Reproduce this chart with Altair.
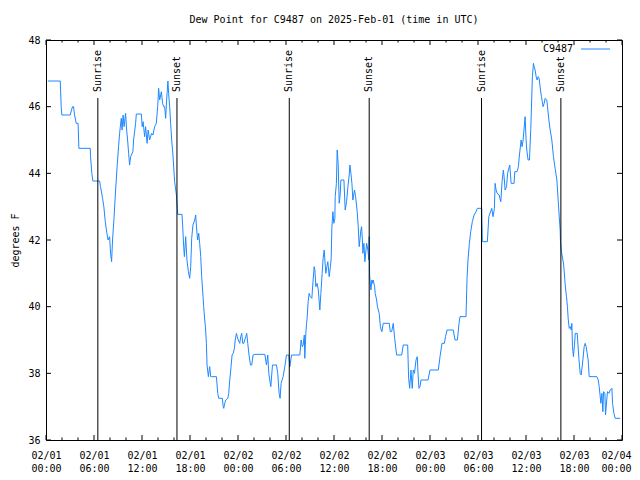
import altair as alt
import pandas as pd

MONO = "DejaVu Sans Mono"
BLUE = "#1e88ff"

# (hours since 2025-02-01 00:00 UTC, dew point F)
day1_readings = [
    (0.23, 46.77), (1.78, 46.77), (1.90, 46.0), (1.98, 45.75), (3.03, 45.75), (3.19, 45.9), (3.32, 46.0),
    (3.44, 46.0), (3.57, 45.75), (3.78, 45.5), (4.01, 45.5), (4.11, 44.75), (5.53, 44.75), (5.57, 44.5),
    (5.73, 44.0), (5.86, 43.77), (6.70, 43.77), (6.82, 43.6), (7.07, 43.25), (7.23, 43.0), (7.41, 42.55),
    (7.61, 42.2), (7.76, 42.0), (7.95, 42.1), (8.07, 41.6), (8.20, 41.35), (8.32, 42.0), (8.51, 42.7),
    (8.70, 43.5), (8.89, 44.2), (9.07, 44.8), (9.20, 45.2), (9.41, 45.65), (9.51, 45.3), (9.64, 45.75),
    (9.76, 45.4), (9.95, 45.8), (10.08, 45.3), (10.20, 45.0), (10.33, 44.6), (10.45, 44.25), (10.58, 44.5),
    (10.86, 44.65), (10.95, 45.0), (11.20, 45.5), (11.29, 45.78), (11.92, 45.78), (12.02, 45.4),
    (12.14, 45.55), (12.33, 45.1), (12.45, 45.4), (12.64, 44.9), (12.77, 45.3), (12.95, 45.0),
    (13.20, 45.2), (13.37, 45.15), (13.58, 45.4), (13.79, 45.5), (13.96, 46.0), (14.08, 46.55),
    (14.21, 46.2), (14.42, 46.45), (14.58, 46.1), (14.71, 46.0), (14.83, 46.0), (14.96, 45.65),
    (15.08, 46.2), (15.24, 46.77), (15.33, 46.4), (15.46, 46.0), (15.58, 45.5), (15.71, 45.0),
    (15.87, 44.55), (16.08, 43.75), (16.30, 43.35), (16.42, 42.95), (16.46, 42.77), (17.00, 42.77),
    (17.08, 42.45), (17.21, 41.8), (17.30, 41.5), (17.46, 42.1), (17.62, 41.4), (17.80, 41.05),
    (17.96, 40.85), (18.09, 41.2), (18.21, 42.05), (18.37, 42.45), (18.59, 42.6), (18.71, 42.75),
    (18.84, 42.3), (18.96, 42.0), (19.09, 42.2), (19.21, 41.9), (19.34, 41.5), (19.46, 40.9),
    (19.63, 40.3), (19.71, 40.0), (19.84, 39.6), (19.93, 39.4), (20.05, 38.9), (20.13, 38.25),
    (20.30, 37.9), (20.40, 38.1), (20.46, 38.2), (20.59, 37.9), (20.71, 37.9), (21.30, 37.9),
    (21.47, 37.4), (21.59, 37.25), (22.05, 37.25), (22.15, 37.0), (22.22, 36.95), (22.34, 37.1),
    (22.47, 37.2), (22.72, 37.25), (22.84, 37.4), (22.97, 37.8), (23.09, 38.1), (23.26, 38.55),
    (23.40, 38.6), (23.55, 38.75), (23.65, 39.0), (23.81, 39.2), (23.91, 39.1),
]

day2_readings = [
    (24.03, 39.0), (24.22, 38.9), (24.34, 39.1), (24.47, 39.2), (24.59, 38.9), (24.72, 38.9),
    (24.84, 39.0), (24.97, 39.1), (25.09, 39.2), (25.22, 38.9), (25.38, 38.55), (25.56, 38.25),
    (25.72, 38.25), (25.88, 38.55), (26.10, 38.57), (27.35, 38.57), (27.56, 38.25), (27.72, 38.55),
    (27.85, 38.0), (27.97, 37.8), (28.10, 37.6), (28.31, 38.25), (28.81, 38.25), (28.97, 38.0),
    (29.14, 37.4), (29.26, 37.25), (29.39, 37.7), (29.64, 37.9), (29.85, 38.2), (30.06, 38.55),
    (30.35, 38.55), (30.48, 38.2), (30.69, 38.55), (31.73, 38.55), (31.89, 39.0), (32.04, 38.8),
    (32.14, 38.85), (32.29, 39.15), (32.35, 38.45), (32.48, 39.2), (32.57, 39.5), (32.64, 39.65),
    (32.77, 40.15), (32.89, 40.4), (33.04, 40.3), (33.23, 40.25), (33.39, 40.8), (33.52, 41.2),
    (33.61, 41.1), (33.73, 40.6), (33.89, 40.7), (34.04, 40.5), (34.23, 39.9), (34.36, 40.4),
    (34.52, 41.0), (34.64, 41.45), (34.77, 41.7), (34.86, 41.4), (34.98, 41.0), (35.11, 41.2),
    (35.23, 41.35), (35.40, 40.9), (35.55, 41.2), (35.65, 41.45), (35.73, 42.35), (35.86, 42.85),
    (35.98, 42.5), (36.11, 42.65), (36.15, 43.3), (36.30, 43.7), (36.40, 44.7), (36.52, 44.3),
    (36.65, 43.1), (36.77, 43.35), (36.86, 43.8), (37.24, 43.8), (37.40, 42.9), (37.57, 43.15),
    (37.74, 43.6), (37.90, 43.95), (37.99, 44.25), (38.11, 44.0), (38.24, 43.7), (38.36, 43.2),
    (38.57, 43.5), (38.70, 43.3), (38.90, 42.85), (39.03, 42.4), (39.15, 41.8), (39.24, 42.0),
    (39.36, 42.3), (39.45, 42.4), (39.55, 42.0), (39.61, 41.6), (39.74, 41.9), (39.86, 41.35),
    (40.08, 41.9), (40.24, 41.7), (40.36, 41.4), (40.40, 42.1), (40.45, 40.95), (40.61, 40.5),
    (40.74, 40.8), (40.83, 40.7), (40.90, 40.8), (41.08, 40.6), (41.15, 40.4), (41.33, 40.2),
    (41.43, 40.0), (41.65, 39.8), (41.80, 39.4), (41.90, 39.3), (41.99, 39.25), (42.15, 39.5),
    (42.91, 39.5), (43.03, 39.25), (43.21, 39.25), (43.41, 39.5), (43.58, 39.05), (43.83, 38.55),
    (44.46, 38.55), (44.66, 38.85), (45.21, 38.85), (45.33, 37.85), (45.46, 37.55), (45.62, 38.1),
    (45.78, 37.55), (45.91, 38.1), (46.06, 38.0), (46.25, 38.4), (46.41, 38.5), (46.50, 38.0),
    (46.62, 37.55), (46.75, 37.6), (46.87, 37.8), (47.75, 37.8), (48.00, 38.1),
]

day3_readings = [
    (49.04, 38.1), (49.25, 38.5), (49.50, 38.9), (49.79, 38.9), (49.94, 39.1), (50.13, 39.3),
    (50.91, 39.3), (51.13, 39.0), (51.42, 39.0), (51.63, 39.5), (51.75, 39.7), (52.50, 39.7),
    (52.63, 40.85), (52.75, 41.4), (52.92, 41.9), (53.09, 42.25), (53.29, 42.55), (53.51, 42.75),
    (53.76, 42.85), (53.92, 42.95), (54.47, 42.95), (54.54, 41.95), (55.17, 41.95), (55.35, 42.7),
    (55.72, 42.95), (55.88, 42.7), (56.05, 42.95), (56.14, 43.7), (56.26, 43.5), (56.39, 43.4),
    (56.64, 43.35), (56.85, 43.15), (57.01, 43.75), (57.17, 44.1), (57.26, 43.9), (57.39, 43.5),
    (57.57, 43.6), (57.70, 44.0), (57.80, 44.1), (57.97, 44.25), (58.14, 43.7), (58.51, 43.7),
    (58.60, 44.05), (58.89, 44.05), (59.05, 44.2), (59.18, 44.55), (59.39, 45.0), (59.51, 44.8),
    (59.64, 45.0), (59.80, 45.45), (59.89, 45.7), (60.01, 45.0), (60.10, 44.7), (60.26, 44.4),
    (60.43, 44.4), (60.60, 45.35), (60.80, 46.9), (60.93, 47.3), (61.02, 47.2), (61.14, 47.1),
    (61.27, 46.9), (61.39, 46.8), (61.52, 46.9), (61.64, 46.85), (61.81, 46.5), (61.93, 46.3),
    (62.14, 46.0), (62.27, 46.1), (62.39, 46.25), (62.60, 46.2), (62.86, 45.6), (63.02, 45.3),
    (63.23, 45.0), (63.43, 44.5), (63.64, 44.15), (63.86, 43.8), (64.02, 43.2), (64.14, 42.75),
    (64.27, 42.3), (64.31, 41.95), (64.43, 41.65), (64.61, 41.4), (64.71, 41.25), (64.81, 40.95),
    (64.90, 40.65), (65.06, 40.3), (65.18, 40.0), (65.27, 39.65), (65.40, 39.35), (65.56, 39.4),
    (65.65, 39.3), (65.73, 39.5), (65.81, 38.8), (65.93, 38.5), (66.11, 39.0), (66.15, 39.2),
    (66.40, 39.2), (66.61, 38.45), (66.77, 38.0), (66.90, 37.95), (67.11, 38.4), (67.27, 38.8),
    (67.40, 38.9), (67.52, 38.8), (67.65, 38.6), (67.77, 38.4), (67.90, 37.9), (68.86, 37.9),
    (69.03, 37.8), (69.15, 37.6), (69.36, 37.1), (69.49, 37.4), (69.61, 36.85), (69.69, 37.45),
    (69.86, 37.4), (69.94, 36.75), (70.09, 37.2), (70.19, 37.45), (70.37, 37.4), (70.53, 37.5),
    (70.74, 37.55), (70.82, 37.1), (70.99, 36.8), (71.15, 36.65), (71.78, 36.65),
]

sun_hours = [6.48, 16.37, 30.41, 40.40, 54.44, 64.36]
sun_labels = ["Sunrise", "Sunset", "Sunrise", "Sunset", "Sunrise", "Sunset"]
sun_line_top = 46.26
sun_label_base = 46.44

x_label_hours = list(range(0, 73, 6))
x_tick_hours = list(range(0, 73, 2))
y_tick_values = [36, 38, 40, 42, 44, 46, 48]
series_name = "C9487"

df = pd.DataFrame(day1_readings + day2_readings + day3_readings, columns=["h", "v"])

xs = alt.Scale(domain=[0, 72], nice=False, zero=False)
ys = alt.Scale(domain=[36, 48], nice=False, zero=False)

label_expr = ("['02/0' + (floor(datum.value / 24) + 1), "
              "((datum.value % 24) < 10 ? '0' : '') + (datum.value % 24) + ':00']")

last_label = "datum.value >= 72"

line = alt.Chart(df).mark_line(color=BLUE, strokeWidth=1, clip=True).encode(
    x=alt.X("h:Q", scale=xs, axis=alt.Axis(
        values=x_label_hours, labelExpr=label_expr, title=None, tickSize=0, domain=False, grid=False,
        labelFont=MONO, labelFontSize=10, labelColor="black", labelLineHeight=13, labelPadding=10,
        labelFlush=False, labelOverlap=False, labelBound=False,
        labelAlign={"condition": {"test": last_label, "value": "right"}, "value": "center"},
        labelOffset={"condition": {"test": last_label, "value": 9}, "value": 0})),
    y=alt.Y("v:Q", scale=ys, axis=alt.Axis(
        values=y_tick_values, format="d", title="degrees F", tickSize=0, domain=False, grid=False,
        labelFont=MONO, labelFontSize=10, labelColor="black", labelPadding=6,
        titleFont=MONO, titleFontSize=10, titleFontWeight="normal", titleColor="black", titlePadding=7)),
)

sun_df = pd.DataFrame({"h": sun_hours, "label": sun_labels})
sun_df["v"] = 36.0
sun_df["v2"] = sun_line_top
sun_df["vt"] = sun_label_base

sun_rules = alt.Chart(sun_df).mark_rule(color="black", strokeWidth=1).encode(
    x="h:Q", y="v:Q", y2="v2:Q")
sun_text = alt.Chart(sun_df).mark_text(angle=270, align="left", baseline="middle", font=MONO,
                                        fontSize=10, color="black").encode(
    x="h:Q", y="vt:Q", text="label:N")

xt = pd.DataFrame({"h": x_tick_hours})
xt["len"] = [0.15 if h % 6 == 0 else 0.075 for h in x_tick_hours]
xt["b0"] = 36.0
xt["b1"] = 36.0 + xt["len"]
xt["t0"] = 48.0
xt["t1"] = 48.0 - xt["len"]
bottom_ticks = alt.Chart(xt).mark_rule(color="black").encode(x="h:Q", y="b0:Q", y2="b1:Q")
top_ticks = alt.Chart(xt).mark_rule(color="black").encode(x="h:Q", y="t0:Q", y2="t1:Q")

yt = pd.DataFrame({"v": y_tick_values})
yt["l0"] = 0.0
yt["l1"] = 0.625
yt["r0"] = 72.0
yt["r1"] = 72.0 - 0.625
left_ticks = alt.Chart(yt).mark_rule(color="black").encode(y="v:Q", x="l0:Q", x2="l1:Q")
right_ticks = alt.Chart(yt).mark_rule(color="black").encode(y="v:Q", x="r0:Q", x2="r1:Q")

leg_df = pd.DataFrame({"name": [series_name]})
legend_text = alt.Chart(leg_df).mark_text(align="right", baseline="middle", font=MONO, fontSize=10,
                                          color="black").encode(
    x=alt.value(527), y=alt.value(9), text="name:N")
legend_line = alt.Chart(leg_df).mark_rule(color=BLUE, strokeWidth=1).encode(
    x=alt.value(535), x2=alt.value(564), y=alt.value(9))

chart = alt.layer(
    line, sun_rules, sun_text, bottom_ticks, top_ticks, left_ticks, right_ticks, legend_text, legend_line
).properties(
    width=576,
    height=400,
    title=alt.TitleParams("Dew Point for C9487 on 2025-Feb-01 (time in UTC)", font=MONO, fontSize=10,
                          fontWeight="normal", anchor="middle", color="black", offset=10),
    autosize=alt.AutoSizeParams(type="none"),
    padding={"left": 38, "top": 32, "right": 10, "bottom": 40},
    background="white",
).configure_view(stroke="black", strokeWidth=1)

chart.save("out.html", embed_options={"renderer": "svg", "actions": False})
